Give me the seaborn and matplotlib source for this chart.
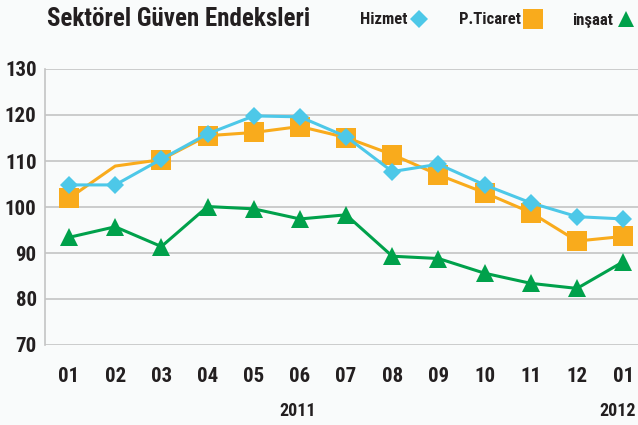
import numpy as np
import pandas as pd
import matplotlib
matplotlib.use("Agg")
import matplotlib.pyplot as plt
import matplotlib.font_manager as fm
import seaborn as sns
from matplotlib.lines import Line2D

# veriler
aylar = ["01", "02", "03", "04", "05", "06", "07", "08", "09", "10", "11", "12", "01"]
hizmet = [104.8, 104.8, 110.4, 115.9, 119.8, 119.6, 115.3, 107.7, 109.3, 104.8, 100.9, 97.9, 97.4]
ticaret = [101.9, 108.9, 110.3, 115.5, 116.2, 117.5, 115.1, 111.4, 107.0, 103.1, 98.8, 92.6, 93.6]
insaat = [93.4, 95.7, 91.4, 100.1, 99.6, 97.4, 98.3, 89.3, 88.8, 85.6, 83.4, 82.3, 88.1]
yillar = ["2011", "2012"]

sns.set_style("white")

# dar (condensed) bir font bul, yoksa Liberation Sans
names = {f.name for f in fm.fontManager.ttflist}
dar = [f.name for f in fm.fontManager.ttflist
       if f.stretch in ("condensed", "semi-condensed", "extra-condensed")]
font_adi, stretch = "Liberation Sans", "normal"
for n in ["Roboto Condensed", "Liberation Sans Narrow", "Open Sans Condensed",
          "Noto Sans Condensed", "DejaVu Sans Condensed"]:
    if n in names:
        font_adi = n
        break
else:
    for n in ["Roboto", "Noto Sans", "Open Sans", "DejaVu Sans", "Inter", "Lato"]:
        if n in dar:
            font_adi, stretch = n, "condensed"
            break
plt.rcParams["font.family"] = [font_adi, "DejaVu Sans"]
plt.rcParams["font.stretch"] = stretch
plt.rcParams["font.weight"] = "bold"

BG = "#f9fbfb"
MAVI = "#4dc8e8"
TURUNCU = "#f9ab1c"
YESIL = "#00a14b"
YAZI = "#231f20"

x = np.arange(len(aylar))
df = pd.DataFrame({"x": x, "Hizmet": hizmet, "P.Ticaret": ticaret, "inşaat": insaat})

fig = plt.figure(figsize=(6.38, 4.25), dpi=100, facecolor=BG)
ax = fig.add_axes([45 / 638, 80 / 425, 593 / 638, 276 / 425], facecolor=BG)

for v in range(70, 131, 10):
    ax.axhline(v, color="#c4c4c4", lw=1.2, zorder=0)

sns.lineplot(data=df, x="x", y="Hizmet", ax=ax, color=MAVI, lw=2.2,
             marker="D", markersize=9, markeredgewidth=0, zorder=3)
sns.lineplot(data=df, x="x", y="P.Ticaret", ax=ax, color=TURUNCU, lw=2.2,
             marker="s", markersize=14.5, markeredgewidth=0, zorder=2,
             markevery=[i for i in range(len(x)) if i != 1])
sns.lineplot(data=df, x="x", y="inşaat", ax=ax, color=YESIL, lw=2.2,
             marker="^", markersize=13, markeredgewidth=0, zorder=2)

ax.set_xlim(-0.52, 12.32)
ax.set_ylim(70, 130)
ax.set_yticks(range(70, 131, 10))
ax.set_xticks(x)
ax.set_xticklabels(aylar)
ax.set_xlabel("")
ax.set_ylabel("")
ax.tick_params(axis="x", length=0, pad=16, labelsize=15, labelcolor=YAZI)
ax.tick_params(axis="y", length=0, pad=6, labelsize=15, labelcolor=YAZI)
for s in ["top", "right", "bottom"]:
    ax.spines[s].set_visible(False)
ax.spines["left"].set_color("#c4c4c4")
ax.spines["left"].set_linewidth(1.2)

ax.text(4.94, -0.24, yillar[0], transform=ax.get_xaxis_transform(),
        ha="center", va="center", fontsize=13, color=YAZI)
ax.text(11.87, -0.24, yillar[1], transform=ax.get_xaxis_transform(),
        ha="center", va="center", fontsize=13, color=YAZI)

fig.text(47 / 638, 1 - 19 / 425, "Sektörel Güven Endeksleri", fontsize=18,
         color=YAZI, ha="left", va="center")

handles = [
    Line2D([], [], ls="none", marker="D", color=MAVI, markersize=9, markeredgewidth=0),
    Line2D([], [], ls="none", marker="s", color=TURUNCU, markersize=14.5, markeredgewidth=0),
    Line2D([], [], ls="none", marker="^", color=YESIL, markersize=12, markeredgewidth=0),
]
fig.legend(handles, ["Hizmet", "P.Ticaret", "inşaat"], loc="center right",
           bbox_to_anchor=(1.0, 1 - 20 / 425), ncol=3, frameon=False,
           markerfirst=False, handlelength=1.3, handletextpad=0.1,
           columnspacing=1.7, borderaxespad=0.0, borderpad=0.1,
           prop={"size": 12, "weight": "bold"}, labelcolor=YAZI)

fig.savefig("out.png", dpi=100, facecolor=BG)
